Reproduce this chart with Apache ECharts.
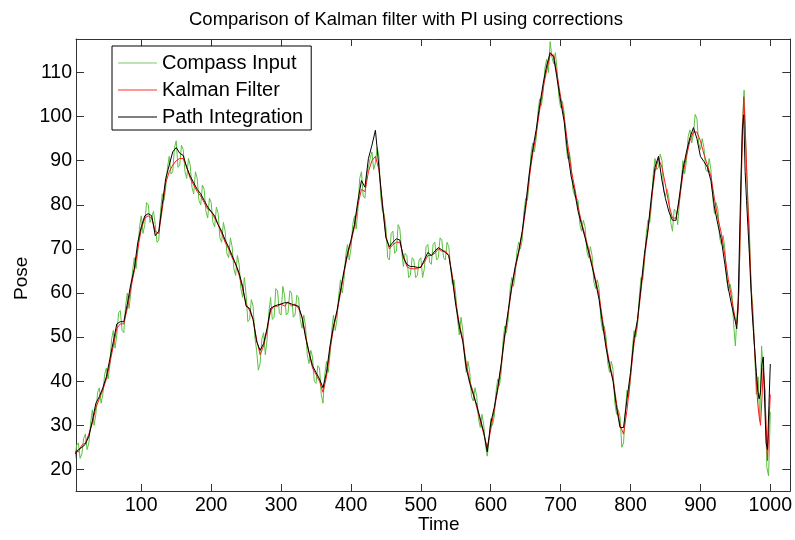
<!DOCTYPE html>
<html>
<head>
<meta charset="utf-8">
<script src="https://cdn.jsdelivr.net/npm/echarts@6/dist/echarts.min.js"></script>
<style>
  html, body { margin: 0; padding: 0; background: #fff; }
  #chart { width: 795px; height: 540px; }
</style>
</head>
<body>
<div id="chart"></div>
<script>
// Sample times for the filtered / integrated tracks (step 5, finer near the end)
const time = [
  5,10,15,20,25,30,35,40,45,50,55,60,65,70,75,80,85,90,95,100,
  105,110,115,120,125,130,135,140,145,150,155,160,165,170,175,180,185,190,195,200,
  205,210,215,220,225,230,235,240,245,250,255,260,265,270,275,280,285,290,295,300,
  305,310,315,320,325,330,335,340,345,350,355,360,365,370,375,380,385,390,395,400,
  405,410,415,420,425,430,435,440,445,450,455,460,465,470,475,480,485,490,495,500,
  505,510,515,520,525,530,535,540,545,550,555,560,565,570,575,580,585,590,595,600,
  605,610,615,620,625,630,635,640,645,650,655,660,665,670,675,680,685,690,695,700,
  705,710,715,720,725,730,735,740,745,750,755,760,765,770,775,780,785,790,795,800,
  805,810,815,820,825,830,835,840,845,850,855,860,865,870,875,880,885,890,895,900,
  905,910,915,920,925,930,935,940,945,950,
  952,954,956,958,960,962,964,966,968,970,972,974,976,978,980,982,984,986,988,990,
  992,994,996,998,1000
];

// Compass readings are logged every 2.5 time units, from 5 to 1000
const compassTime = Array.from({ length: 399 }, (_, i) => 5 + 2.5 * i);

// Raw compass heading
const compassInput = [
  22.5,25.5, 26,22.5, 23.5,27, 28,24.5, 26,30.5, 33.5,30, 32.5,37.5, 38.5,35, 37,41.5, 43,40.5,
  43.5,49.5, 51.5,47.5, 50.5,55.5, 56,51.5, 51,57, 60,56.5, 60,65, 68,65.5, 69.5,75, 77.5,73.5,
  75.5,80.5, 80,76, 76,78.5, 75.5,71.5, 72,78.5, 82.5,81, 84,88.5, 91,87, 87.5,93, 94.5,88.5,
  89,93.5, 92.5,87.5, 86,90.5, 89,84, 82.5,87.5, 86,81, 80,84.5, 83.5,78.5, 77,81.5, 80.5,76,
  75,79.5, 78,72.5, 71.5,76, 74,69, 68,72.5, 70.5,65.5, 64,68.5, 66.5,61, 59,63.5, 59.5,53.5,
  54,58.5, 57,50, 47,42.5, 44,49.5, 51,46, 49.5,55.5, 59,54, 54.5,61, 60.5,55.5, 55,61.5,
  59.5,55, 55.5,60.5, 60,54.5, 55,59.5, 59,54, 52,55, 52.5,46, 44,47, 45.5,40, 39.5,43.5,
  43,37, 35,41.5, 44.5,42, 46,51.5, 55,51.5, 54,59.5, 63,60, 63,68.5, 71,67.5, 70,75.5,
  77.5,74.5, 79,86, 87.5,82, 81.5,87, 88.5,90.5, 92,88, 89.5,93, 91,82, 78.5,78, 75,68,
  67.5,73.5, 74,69, 69.5,75.5, 74.5,69.5, 66,69, 68.5,63.5, 64,68, 67.5,63.5, 64,67.5, 68,63.5,
  65.5,70.5, 71,67, 66.5,71, 71.5,67.5, 68,72.5, 72,68, 67.5,71.5, 70.5,66, 62,63, 59.5,54,
  50.5,54.5, 51.5,45.5, 42,44.5, 42,36.5, 35.5,38.5, 36.5,31.5, 29.5,32.5, 30,25.5, 23,26.5, 31.5,30,
  32,37.5, 40.5,39, 42,49, 52.5,51, 54,60.5, 63.5,61.5, 64,69.5, 71.5,70, 72,78.5, 81.5,81,
  85,91.5, 94,92, 95,101, 104,102.5, 105.5,111, 113,110, 117,113.5, 112,114.5, 110.5,104.5, 102,103.5,
  101,94, 90.5,92, 89,83.5, 82,82, 81,75.5, 74,76.5, 75,69.5, 68,70.5, 68.5,62.5, 61,63,
  61,54, 51.5,52.5, 50,44, 42,44.5, 42.5,35, 32.5,33.5, 32,25, 26,33, 38,36.5, 40.5,47,
  51.5,50, 52.5,59, 63.5,63, 67,73.5, 76.5,76, 80,87, 90.5,88, 88.5,91.5, 90,83, 82,83.5,
  81.5,76, 74,79, 78.5,75.5, 80.5,85, 90,87, 90,95.5, 97,94, 96,100.5, 99.5,94, 92.5,95,
  93,88, 87.5,90.5, 88,82, 78,80.5, 79,72.5, 71,73, 70,63, 60.5,62, 60,53, 48,55.5,
  60,78, 98,106, 93,82, 74.5,61, 57,47, 37,41, 31,48, 42,38, 20.5,18.5, 33
];

// Kalman filter estimate
const kalmanFilter = [
  24,24,25.5,26,28,30.5,34,36,38,40.5,44,48,52,53,53,56.5,61,65,70,74.5,
  77,77.5,77,74,73.5,79,85,87.5,89,90,90.5,90.5,88.5,86,84.5,83,82,80.5,79,78.5,
  77,75.5,73.5,71.5,70,68,66.5,64,61,57.5,56,54,49.5,46,48,51.5,56,57,57,57.5,
  57,58,57,57.5,56.5,54.5,50.5,46.5,43,41.5,40,37.5,41,47,52,55.5,60,64.5,68.5,71.5,
  75,80,83.5,83,87.5,90,91,88,80.5,73,70,71,71.5,71.5,68.5,66,65.5,65.5,65.5,66,
  67,68.5,68.5,69,70,69.5,69.5,68.5,64,58,53,49.5,44,40,37.5,34,31,28,25,29,
  33.5,38,43.5,50,55.5,61,65.5,69,73.5,79,86,91.5,96,101.5,106.5,110.5,114,114,109.5,104.5,
  100,94,88,84,79.5,76,73,70,66.5,63,59.5,54,48.5,44,40.5,35,30,28,33.5,41,
  48.5,53.5,60.5,68,74,81,87.5,90.5,88.5,84.5,80,77,77,81,87,91,94.5,96.5,96.5,94.5,
  91.5,89,86.5,81.5,77,73.5,68.5,63,58.5,54,
  53,56,67,82,95,104.5,98,89,80,72,64,57,52,46,40,35,32,30,36,43,
  38,30,22,30,37
];

// Path integration with corrections
const pathIntegration = [
  23.5,24.5,25,25.7,27.5,31,35,36.5,38.5,41,45,49,53,53.5,53.5,57.5,62,65.5,71.5,75,
  77.5,78,77.5,73,74,80,86,89,92,93,91.7,91.2,88.5,86.5,85,83.5,82.5,81,79.5,78.5,
  77.5,75.5,74,72,70.4,68.5,66.6,64.5,61.5,57,56.5,54,49,47,48.5,52,56.5,57,57.3,57.5,
  57.8,57.8,57.5,57.2,57,54.5,50,46.5,43.5,42,40.5,38.5,42,48,52.5,56,60.5,65,69,72,
  75.5,81,85.5,84,90.5,93.5,96.9,88.5,80,72.5,70.5,71.5,72.3,72,68,66.5,66,66,65.8,65.8,
  67.5,69.2,68.5,69.5,70.3,69.8,69.2,68.5,63.3,57.2,52.5,49,43,39.5,37,34.5,31.5,28.4,24,30.5,
  34,38.5,44,50.5,56,61.5,66,69.5,74,79.9,87,92.5,97,102.5,107.5,111.5,114.5,113.5,108.5,103.5,
  98.9,92,86.5,83,78.5,75.5,72.5,69.3,66,62.5,58.5,53,47.5,43.5,40,34,29.5,29.5,36,42,
  49.6,54,61.5,69,74.5,82,88.5,91,85.5,81.4,78.4,76.5,76.5,82,88,92,95.2,97.5,95,91,
  89.8,88.5,85.5,79.5,75.5,72,66.5,61,57,53.5,
  51.9,58,72,86,97,100.4,87.5,81,75,69,62,55.7,51,46.5,42,38,36,37.5,44,45.5,
  35,26,24.5,34.5,43.9
];

// Axis tick positions
const xTicks = [100,200,300,400,500,600,700,800,900,1000];
const yTicks = [20,30,40,50,60,70,80,90,100,110];

const FONT = '"Liberation Sans", Arial, Helvetica, sans-serif';

function zipPairs(xs, ys) {
  return xs.map((t, i) => [t, ys[i]]);
}

const chart = echarts.init(document.getElementById('chart'), null, { renderer: 'canvas' });

const axisLineStyle = { color: '#333', width: 1 };

function xAxisDef(pos, showLabels) {
  return {
    type: 'value', position: pos, min: 6.6, max: 1028.6,
    axisLine: { show: true, onZero: false, lineStyle: axisLineStyle },
    axisTick: { show: true, inside: true, length: 7, customValues: xTicks, lineStyle: axisLineStyle },
    axisLabel: {
      show: showLabels, customValues: xTicks, margin: 5, color: '#000',
      fontSize: 19.5, fontFamily: FONT, formatter: v => String(v)
    },
    splitLine: { show: false }
  };
}
function yAxisDef(pos, showLabels) {
  return {
    type: 'value', position: pos, min: 15.1, max: 117.6,
    axisLine: { show: true, onZero: false, lineStyle: axisLineStyle },
    axisTick: { show: true, inside: true, length: 8, customValues: yTicks, lineStyle: axisLineStyle },
    axisLabel: {
      show: showLabels, customValues: yTicks, margin: 4, color: '#000',
      fontSize: 19.5, fontFamily: FONT, formatter: v => String(v)
    },
    splitLine: { show: false }
  };
}

chart.setOption({
  animation: false,
  backgroundColor: '#fff',
  title: {
    text: 'Comparison of Kalman filter with PI using corrections',
    left: 184, top: 5,
    textStyle: { fontSize: 18.5, fontWeight: 'normal', color: '#000', fontFamily: FONT }
  },
  grid: { left: 76, right: 3, top: 39, bottom: 49 },
  xAxis: [xAxisDef('bottom', true), xAxisDef('top', false)],
  yAxis: [yAxisDef('left', true), yAxisDef('right', false)],
  legend: {
    orient: 'vertical',
    left: 112, top: 46,
    padding: [7, 8, 3, 6],
    icon: 'path://M0,0H39V1H0Z',
    itemWidth: 39, itemHeight: 1, itemGap: 7,
    backgroundColor: '#fff', borderColor: '#000', borderWidth: 1,
    textStyle: { fontSize: 20, lineHeight: 20, color: '#000', fontFamily: FONT },
    data: ['Compass Input', 'Kalman Filter', 'Path Integration']
  },
  graphic: [
    { type: 'text', left: 418, top: 515, style: { text: 'Time', fontSize: 19, fill: '#000', fontFamily: FONT } },
    { type: 'text', x: 12, y: 300, rotation: Math.PI / 2,
      style: { text: 'Pose', fontSize: 19, fill: '#000', fontFamily: FONT, textVerticalAlign: 'top' } }
  ],
  series: [
    { name: 'Compass Input', type: 'line', data: zipPairs(compassTime, compassInput), symbol: 'none',
      lineStyle: { color: '#5cc040', width: 1 }, itemStyle: { color: '#7ccc6a' }, z: 1 },
    { name: 'Kalman Filter', type: 'line', data: zipPairs(time, kalmanFilter), symbol: 'none',
      lineStyle: { color: '#ff1a1a', width: 1 }, itemStyle: { color: '#ff3030' }, z: 2 },
    { name: 'Path Integration', type: 'line', data: zipPairs(time, pathIntegration), symbol: 'none',
      lineStyle: { color: '#000', width: 1 }, itemStyle: { color: '#000' }, z: 3 }
  ]
});
</script>
</body>
</html>
